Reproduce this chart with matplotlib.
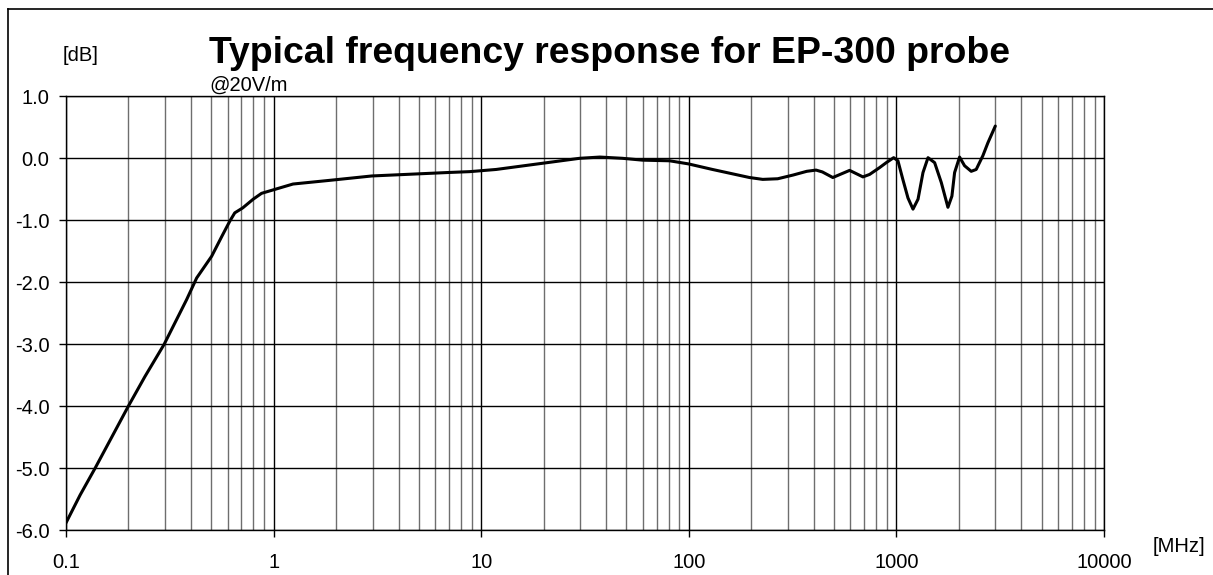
import matplotlib
matplotlib.use("Agg")
import matplotlib.pyplot as plt
from matplotlib.ticker import LogLocator, FixedLocator, NullFormatter
from matplotlib.lines import Line2D

plt.rcParams['font.family'] = ['Liberation Sans', 'DejaVu Sans']

# Data (frequency in MHz, response in dB)
freq_mhz = [0.1, 0.117, 0.138, 0.1995, 0.24, 0.297, 0.381, 0.426, 0.503, 0.563,
            0.616, 0.65, 0.71, 0.797, 0.875, 0.994, 1.24, 1.87, 2.97, 6.83,
            8.82, 11.8, 20.8, 29.8, 37.3, 47.9, 59.9, 80.8, 99.5, 130,
            196, 227, 268, 318, 370, 410, 440, 494, 595, 690,
            743, 830, 894, 970, 1017, 1074, 1137, 1202, 1271, 1343,
            1420, 1528, 1645, 1771, 1851, 1907, 2015, 2130, 2293, 2423,
            2608, 2759, 2995]
response_db = [-5.88, -5.43, -5.0, -4.0, -3.52, -3.0, -2.28, -1.93, -1.58, -1.26,
               -1.01, -0.88, -0.80, -0.66, -0.565, -0.51, -0.415, -0.355, -0.285, -0.23,
               -0.215, -0.18, -0.07, 0.0, 0.02, 0.0, -0.03, -0.04, -0.09, -0.18,
               -0.31, -0.34, -0.33, -0.27, -0.21, -0.19, -0.22, -0.31, -0.195, -0.30,
               -0.26, -0.15, -0.07, 0.01, -0.04, -0.34, -0.64, -0.82, -0.66, -0.23,
               0.01, -0.07, -0.39, -0.79, -0.61, -0.23, 0.02, -0.12, -0.21, -0.18,
               0.04, 0.25, 0.52]

x_ticks = [0.1, 1, 10, 100, 1000, 10000]
x_tick_labels = ['0.1', '1', '10', '100', '1000', '10000']
y_ticks = [1.0, 0.0, -1.0, -2.0, -3.0, -4.0, -5.0, -6.0]
y_tick_labels = ['1.0', '0.0', '-1.0', '-2.0', '-3.0', '-4.0', '-5.0', '-6.0']

W, H = 1213, 575
fig = plt.figure(figsize=(W / 100, H / 100), dpi=100)
ax = fig.add_axes([66 / W, 1 - 530.3 / H, (1104 - 66) / W, (530.3 - 96.3) / H])

ax.set_xscale('log')
ax.set_xlim(0.1, 10000)
ax.set_ylim(-6, 1)

ax.xaxis.set_major_locator(FixedLocator(x_ticks))
ax.set_xticklabels(x_tick_labels)
ax.xaxis.set_minor_locator(LogLocator(base=10, subs=range(2, 10), numticks=20))
ax.xaxis.set_minor_formatter(NullFormatter())
ax.set_yticks(y_ticks)
ax.set_yticklabels(y_tick_labels)

ax.grid(which='major', axis='both', color='black', linewidth=1.0)
ax.grid(which='minor', axis='x', color='#6e6e6e', linewidth=1.0)
ax.set_axisbelow(True)

ax.tick_params(axis='both', which='major', direction='out', length=5, width=1,
               labelsize=14.5, color='black')
ax.tick_params(axis='y', which='major', pad=7)
ax.tick_params(axis='x', which='major', pad=11)
ax.tick_params(axis='x', which='minor', length=0)
for s in ax.spines.values():
    s.set_color('black')
    s.set_linewidth(1.0)

ax.plot(freq_mhz, response_db, color='black', linewidth=2.2,
        solid_joinstyle='round', solid_capstyle='round')

fig.text(209 / W, 1 - 63 / H, 'Typical frequency response for EP-300 probe',
         fontsize=26.9, fontweight='bold', ha='left', va='baseline')
fig.text(63 / W, 1 - 61 / H, '[dB]', fontsize=14.5, ha='left', va='baseline')
fig.text(209 / W, 1 - 91 / H, '@20V/m', fontsize=14.5, ha='left', va='baseline')
fig.text(1153 / W, 1 - 552 / H, '[MHz]', fontsize=14.5, ha='left', va='baseline')

# Outer frame (top and left edges visible)
fig.add_artist(Line2D([8 / W, 1.0], [1 - 9 / H, 1 - 9 / H], transform=fig.transFigure,
                      color='black', linewidth=1.2))
fig.add_artist(Line2D([8 / W, 8 / W], [0, 1 - 9 / H], transform=fig.transFigure,
                      color='black', linewidth=1.2))

fig.savefig('out.png', dpi=100)
